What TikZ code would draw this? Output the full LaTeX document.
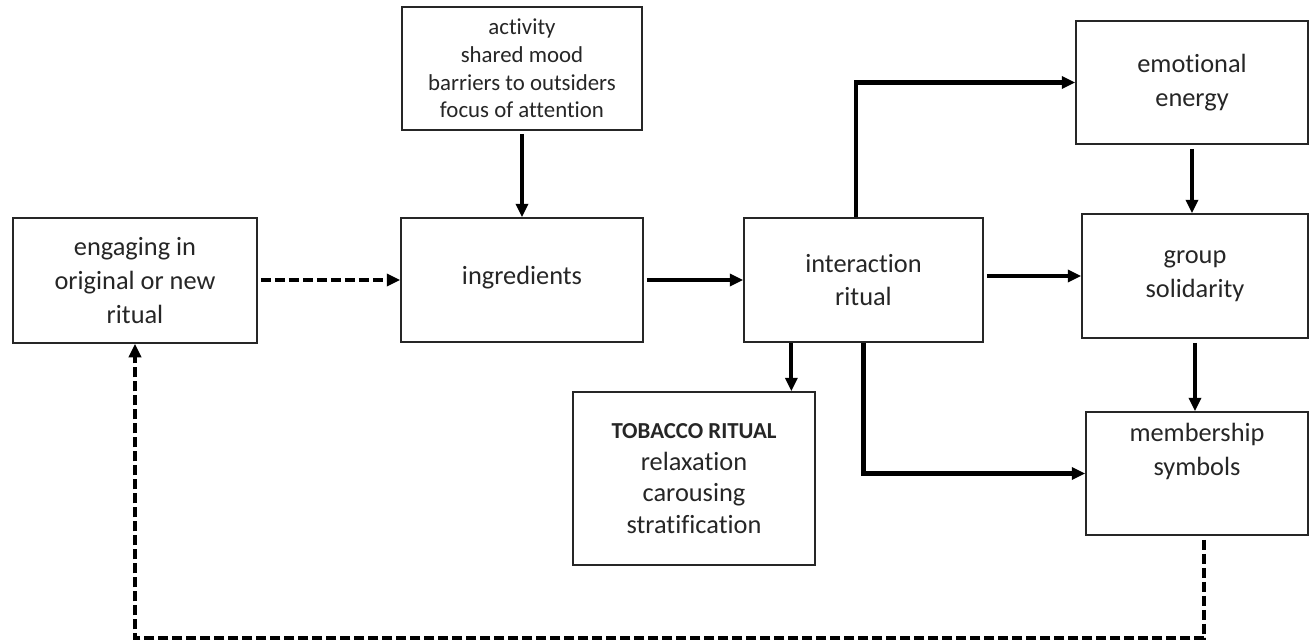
\documentclass[tikz,border=0pt]{standalone}
\usepackage{fontspec}
\setmainfont{Carlito}[Ligatures=NoCommon]
\usepackage{tikz}
\usetikzlibrary{arrows.meta}
\usetikzlibrary{calc}
\tikzstyle{box}=[draw=black!85, line width=0.85pt, align=center, inner sep=0pt, text=black!85, font=\fontsize{15}{19.3}\selectfont]
\tikzstyle{arr}=[line width=2.3pt, -{Triangle[length=0.27cm,width=0.24cm]}]
\tikzstyle{darr}=[line width=2.2pt, dash pattern=on 0.2cm off 0.08cm, -{Triangle[length=0.27cm,width=0.24cm]}]
\usepackage{xcolor}

\begin{document}
\begin{tikzpicture}
\useasboundingbox[fill=white] (0,0) rectangle (26.18,-12.86);
\node[box, minimum width=4.88cm, minimum height=2.5cm] (engage) at (2.70,-5.61) {engaging in\\original or new\\ritual};
\node[box, minimum width=4.80cm, minimum height=2.46cm, font=\fontsize{13}{15.7}\selectfont] (attr) at (10.44,-1.37) {activity\\shared mood\\barriers to outsiders\\focus of attention};
\node[box, minimum width=4.84cm, minimum height=2.48cm] (ingred) at (10.44,-5.60) {\raisebox{0.18cm}{ingredients}};
\node[box, minimum width=4.78cm, minimum height=2.48cm] (interact) at (17.27,-5.60) {interaction\\ritual};
\node[box, minimum width=4.64cm, minimum height=2.46cm] (emotion) at (23.84,-1.65) {emotional\\energy};
\node[box, minimum width=4.52cm, minimum height=2.48cm] (group) at (23.90,-5.52) {group\\solidarity};
\node[box, minimum width=4.44cm, minimum height=2.46cm] (member) at (23.94,-9.47) {membership\\symbols\\[0.3cm]};
\node[box, minimum width=4.84cm, minimum height=3.46cm, font=\fontsize{15}{17.9}\selectfont] (tobacco) at (13.88,-9.57) {{\fontsize{13}{15}\selectfont\bfseries TOBACCO RITUAL}\\relaxation\\carousing\\stratification};
\coordinate (base) at (0,-12.76);
\coordinate (up) at ($(interact.north)+(-0.15,0)$);
\coordinate (smoke) at ($(interact.south west)!0.2!(interact.south east)$);
\coordinate (drop) at ($(member.south)+(0.14,0)$);
\draw[darr, shorten <=0.06cm] (engage.east |- ingred.west) -- (ingred.west);
\draw[arr, shorten <=0.06cm] (attr.south) -- (ingred.north);
\draw[arr, shorten <=0.06cm] (ingred.east) -- (interact.west);
\draw[arr] (up) |- (emotion.west);
\draw[arr, shorten <=0.06cm] (interact.east |- group.west) -- (group.west);
\draw[arr, shorten <=0.08cm] (emotion.south) -- (emotion.south |- group.north);
\draw[arr, shorten <=0.08cm] (group.south) -- (group.south |- member.north);
\draw[arr] (smoke) -- (smoke |- tobacco.north);
\draw[arr] (interact.south) |- (member.west);
\draw[darr, shorten <=0.08cm] (drop) -- (drop |- base) -| (engage.south);
\end{tikzpicture}
\end{document}
